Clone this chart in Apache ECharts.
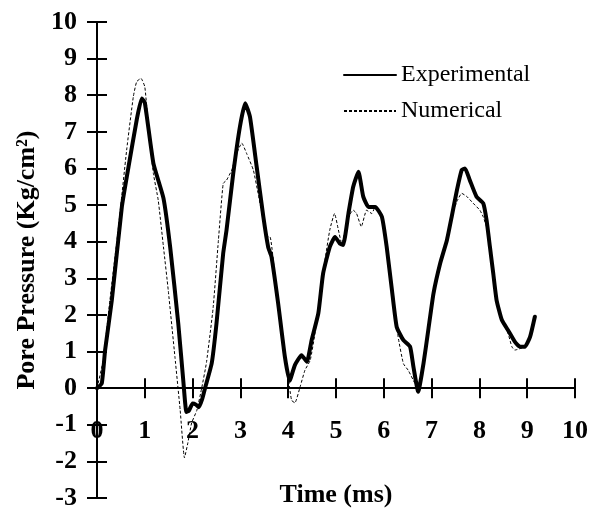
<!DOCTYPE html>
<html>
<head>
<meta charset="utf-8">
<script src="https://cdn.jsdelivr.net/npm/echarts@6/dist/echarts.min.js"></script>
<style>
  html, body { margin: 0; background: #fff; }
  #chart { width: 600px; height: 512px; }
</style>
</head>
<body>
<div id="chart"></div>
<script>
// Pore pressure vs time - experimental vs numerical
const seriesNames = ['Experimental', 'Numerical'];

const expTime = [0, 0.1, 0.17, 0.31, 0.52, 0.66, 0.83, 0.935, 1.0, 1.18, 1.39, 1.53, 1.70, 1.81, 1.87, 1.92, 2.0, 2.07, 2.13, 2.2,
  2.26, 2.4, 2.5, 2.64, 2.71, 2.85, 2.99, 3.10, 3.20, 3.34, 3.48, 3.58, 3.65, 3.79, 3.93, 4.03, 4.14, 4.28, 4.39, 4.49,
  4.63, 4.73, 4.87, 4.98, 5.08, 5.15, 5.26, 5.36, 5.47, 5.57, 5.68, 5.82, 5.96, 6.06, 6.17, 6.27, 6.41, 6.55, 6.62, 6.72,
  6.83, 6.93, 7.04, 7.18, 7.32, 7.42, 7.53, 7.63, 7.70, 7.80, 7.94, 8.08, 8.15, 8.22, 8.29, 8.36, 8.47, 8.60, 8.74, 8.85,
  8.95, 9.06, 9.16];
const expPressure = [0, 0.13, 1.04, 2.4, 4.95, 6.05, 7.32, 7.91, 7.8, 6.14, 5.19, 3.86, 1.77, 0.13, -0.65, -0.62, -0.42, -0.45, -0.52, -0.3,
  0.0, 0.68, 1.77, 3.68, 4.32, 5.86, 7.14, 7.78, 7.41, 6.05, 4.68, 3.86, 3.59, 2.31, 0.86, 0.2, 0.63, 0.9, 0.72, 1.31,
  2.04, 3.13, 3.86, 4.13, 3.95, 3.91, 4.77, 5.5, 5.91, 5.23, 4.95, 4.95, 4.68, 3.86, 2.68, 1.67, 1.31, 1.13, 0.58, -0.1,
  0.67, 1.58, 2.59, 3.41, 4.04, 4.68, 5.41, 5.96, 6.0, 5.68, 5.23, 5.05, 4.59, 3.86, 3.13, 2.40, 1.86, 1.58, 1.27, 1.13,
  1.13, 1.4, 1.95];

const numTime = [0, 0.13, 0.27, 0.45, 0.62, 0.76, 0.83, 0.92, 1.0, 1.07, 1.18, 1.28, 1.39, 1.49, 1.63, 1.74, 1.83, 1.9, 1.98, 2.09,
  2.19, 2.29, 2.43, 2.54, 2.64, 2.71, 2.82, 2.92, 3.03, 3.13, 3.27, 3.37, 3.48, 3.58, 3.62, 3.79, 3.97, 4.07, 4.14, 4.25,
  4.35, 4.46, 4.56, 4.67, 4.77, 4.87, 4.97, 5.05, 5.12, 5.26, 5.36, 5.43, 5.53, 5.64, 5.75, 5.82, 5.96, 6.06, 6.17, 6.30,
  6.41, 6.51, 6.65, 6.72, 6.83, 6.93, 7.04, 7.18, 7.32, 7.42, 7.53, 7.63, 7.74, 7.87, 8.01, 8.08, 8.15, 8.22, 8.29, 8.36,
  8.47, 8.60, 8.68, 8.74, 8.85, 8.95];
const numPressure = [0, 0.76, 2.4, 4.41, 6.5, 7.96, 8.37, 8.46, 8.23, 7.23, 5.86, 5.14, 3.86, 2.68, 0.86, -0.6, -1.9, -1.5, -0.95, -0.6,
  0.0, 0.7, 2.2, 4.04, 5.59, 5.68, 5.96, 6.41, 6.69, 6.41, 5.96, 5.32, 4.59, 4.13, 4.13, 2.2, 0.58, -0.33, -0.4, 0.04,
  0.49, 0.76, 1.5, 2.59, 3.5, 4.32, 4.77, 4.32, 3.95, 4.68, 4.86, 4.77, 4.41, 4.86, 4.77, 4.95, 4.68, 3.86, 2.68, 1.4,
  0.67, 0.49, 0.13, -0.08, 0.67, 1.58, 2.59, 3.41, 4.04, 4.68, 5.1, 5.32, 5.23, 5.05, 4.86, 4.68, 4.4, 3.86, 3.13, 2.40,
  1.86, 1.49, 1.13, 1.04, 1.08, 1.13];

const FONT = '"Liberation Serif", "Times New Roman", serif';
const labelStyle = { color: '#000', fontFamily: FONT, fontWeight: 'bold', fontSize: 26 };
const axisLineStyle = { color: '#000', width: 2 };

const chart = echarts.init(document.getElementById('chart'));

const GRID = { left: 97, right: 25, top: 22, bottom: 14 };
const PLOT_W = 600 - GRID.left - GRID.right;
const PLOT_H = 512 - GRID.top - GRID.bottom;
const Y_MIN = -3, Y_MAX = 10;
// y = 0 sits 3 units above the grid bottom
const ZERO_FROM_BOTTOM = PLOT_H * (0 - Y_MIN) / (Y_MAX - Y_MIN);

// main axes: outward ticks, labels and names
const xMain = {
  type: 'value', min: 0, max: 10, interval: 1, position: 'bottom', offset: -ZERO_FROM_BOTTOM,
  axisLine: { show: true, onZero: false, lineStyle: axisLineStyle },
  axisTick: { show: true, length: 10, lineStyle: axisLineStyle },
  axisLabel: { margin: 30, ...labelStyle },
  splitLine: { show: false },
  name: 'Time (ms)', nameLocation: 'middle', nameGap: 94, nameTextStyle: labelStyle
};
const yMain = {
  type: 'value', min: Y_MIN, max: Y_MAX, interval: 1, position: 'left',
  axisLine: { show: true, onZero: false, lineStyle: axisLineStyle },
  axisTick: { show: true, length: 10, lineStyle: axisLineStyle },
  axisLabel: { margin: 20, ...labelStyle },
  splitLine: { show: false },
  name: 'Pore Pressure (Kg/cm²)', nameLocation: 'middle', nameGap: 55, nameTextStyle: labelStyle
};

// twin axes from the opposite sides, pulled onto the main lines:
// their outward ticks point into the plot, so the ticks cross the axes
const xTwin = {
  type: 'value', min: 0, max: 10, interval: 1, position: 'top',
  offset: -(PLOT_H - ZERO_FROM_BOTTOM),
  axisLine: { show: false, onZero: false },
  axisTick: { show: true, length: 10, lineStyle: axisLineStyle },
  axisLabel: { show: false },
  splitLine: { show: false }
};
const yTwin = {
  type: 'value', min: Y_MIN, max: Y_MAX, interval: 1, position: 'right',
  offset: -PLOT_W,
  axisLine: { show: false, onZero: false },
  axisTick: { show: true, length: 10, lineStyle: axisLineStyle },
  axisLabel: { show: false },
  splitLine: { show: false }
};

const option = {
  backgroundColor: '#fff',
  animation: false,
  grid: { ...GRID, containLabel: false, outerBoundsMode: 'none' },
  legend: {
    orient: 'vertical', left: 338, top: 58,
    itemWidth: 52, itemHeight: 14, itemGap: 12,
    data: seriesNames,
    itemStyle: { opacity: 0 },
    textStyle: { color: '#000', fontFamily: FONT, fontSize: 24 }
  },
  xAxis: [xMain, xTwin],
  yAxis: [yMain, yTwin],
  series: [
    {
      name: seriesNames[0], type: 'line', xAxisIndex: 0, yAxisIndex: 0,
      data: expTime.map((t, i) => [t, expPressure[i]]),
      showSymbol: false, symbol: 'none', smooth: 0.15,
      lineStyle: { color: '#000', width: 4, join: 'round', cap: 'round' },
      itemStyle: { color: '#000' }, z: 3
    },
    {
      name: seriesNames[1], type: 'line', xAxisIndex: 0, yAxisIndex: 0,
      data: numTime.map((t, i) => [t, numPressure[i]]),
      showSymbol: false, symbol: 'none', smooth: 0.15,
      lineStyle: { color: '#000', width: 1, type: [3, 2] },
      itemStyle: { color: '#000' }, z: 2
    }
  ]
};

chart.setOption(option);
</script>
</body>
</html>
